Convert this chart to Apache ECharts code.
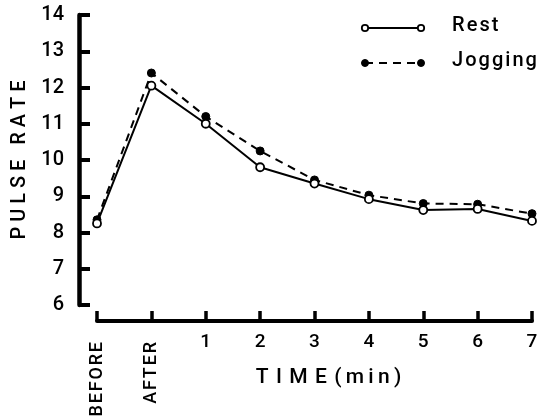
<!DOCTYPE html>
<html>
<head>
<meta charset="utf-8">
<script src="https://cdn.jsdelivr.net/npm/echarts@6/dist/echarts.min.js"></script>
<style>
  html, body { margin: 0; padding: 0; background: #fff; }
  #main { width: 545px; height: 420px; }
</style>
</head>
<body>
<div id="main"></div>
<script>
// time points
var categories = ['BEFORE', 'AFTER', '1', '2', '3', '4', '5', '6', '7'];
// pulse rate readings
var restValues = [8.25, 12.05, 11.0, 9.8, 9.35, 8.92, 8.62, 8.65, 8.32];
var joggingValues = [8.35, 12.4, 11.2, 10.25, 9.45, 9.03, 8.8, 8.78, 8.52];
var legendNames = ['Rest', 'Jogging'];

var font = 'Roboto';
var HAIR = '\u200A';

// spread letters out a bit, the original uses wide lettering
function spaced(s, sep) {
    return s.split('').join(sep);
}

var chart = echarts.init(document.getElementById('main'));

var option = {
    backgroundColor: '#fff',
    animation: false,
    grid: { left: 97, right: 13, top: 15, bottom: 115, containLabel: false, outerBoundsMode: 'none' },
    xAxis: [
        {
            type: 'category',
            data: categories,
            boundaryGap: false,
            offset: 16,
            axisLine: { show: true, lineStyle: { color: '#000', width: 4 } },
            axisTick: { show: true, inside: true, length: 10, lineStyle: { color: '#000', width: 3.5 } },
            axisLabel: {
                color: '#000', fontFamily: font, fontWeight: 500, fontSize: 19, margin: 12,
                formatter: function (v) { return (v === 'BEFORE' || v === 'AFTER') ? '' : v; }
            },
            splitLine: { show: false },
            name: spaced('TIME', ' ' + HAIR) + ' ' + HAIR + spaced('(min)', HAIR + HAIR),
            nameLocation: 'middle',
            nameGap: 46,
            nameTextStyle: { color: '#000', fontFamily: font, fontWeight: 500, fontSize: 21, padding: [0, 0, 0, 28] }
        },
        {
            type: 'category',
            data: categories,
            boundaryGap: false,
            position: 'bottom',
            offset: 16,
            axisLine: { show: false },
            axisTick: { show: false },
            axisLabel: {
                color: '#000', fontFamily: font, fontWeight: 500, fontSize: 18, margin: 21, rotate: 90,
                formatter: function (v) { return (v === 'BEFORE' || v === 'AFTER') ? spaced(v, HAIR) : ''; }
            },
            splitLine: { show: false }
        }
    ],
    yAxis: {
        type: 'value',
        min: 6,
        max: 14,
        interval: 1,
        offset: 18,
        axisLine: { show: true, lineStyle: { color: '#000', width: 4.5 } },
        axisTick: { show: true, inside: true, length: 11, lineStyle: { color: '#000', width: 4 } },
        axisLabel: { color: '#000', fontFamily: font, fontWeight: 500, fontSize: 20, margin: 15 },
        splitLine: { show: false },
        name: spaced('PULSE', ' ') + '   ' + spaced('RATE', ' '),
        nameLocation: 'middle',
        nameRotate: 90,
        nameGap: 46,
        nameTextStyle: { color: '#000', fontFamily: font, fontWeight: 500, fontSize: 20 }
    },
    graphic: [
        { type: 'line', shape: { x1: 365, y1: 28, x2: 421, y2: 28 }, style: { stroke: '#000', lineWidth: 1.8 } },
        { type: 'circle', shape: { cx: 365, cy: 28, r: 3.2 }, style: { fill: '#fff', stroke: '#000', lineWidth: 1.8 } },
        { type: 'circle', shape: { cx: 421, cy: 28, r: 3.2 }, style: { fill: '#fff', stroke: '#000', lineWidth: 1.8 } },
        { type: 'text', left: 452, top: 16, style: { text: spaced(legendNames[0], HAIR), font: '500 20px Roboto', fill: '#000' } },
        { type: 'line', shape: { x1: 365, y1: 63, x2: 421, y2: 63 }, style: { stroke: '#000', lineWidth: 1.8, lineDash: [8, 6] } },
        { type: 'circle', shape: { cx: 365, cy: 63, r: 3.5 }, style: { fill: '#000', stroke: '#000', lineWidth: 1 } },
        { type: 'circle', shape: { cx: 421, cy: 63, r: 3.5 }, style: { fill: '#000', stroke: '#000', lineWidth: 1 } },
        { type: 'text', left: 452, top: 51, style: { text: spaced(legendNames[1], HAIR), font: '500 20px Roboto', fill: '#000' } }
    ],
    series: [
        {
            name: legendNames[0],
            type: 'line',
            xAxisIndex: 0,
            data: restValues,
            symbol: 'circle',
            symbolSize: 8,
            itemStyle: { color: '#fff', borderColor: '#000', borderWidth: 1.8 },
            lineStyle: { color: '#000', width: 2 },
            z: 3
        },
        {
            name: legendNames[1],
            type: 'line',
            xAxisIndex: 0,
            data: joggingValues,
            symbol: 'circle',
            symbolSize: 8,
            itemStyle: { color: '#000', borderColor: '#000', borderWidth: 1 },
            lineStyle: { color: '#000', width: 2, type: [8, 6] },
            z: 2
        }
    ]
};
chart.setOption(option);
</script>
</body>
</html>
